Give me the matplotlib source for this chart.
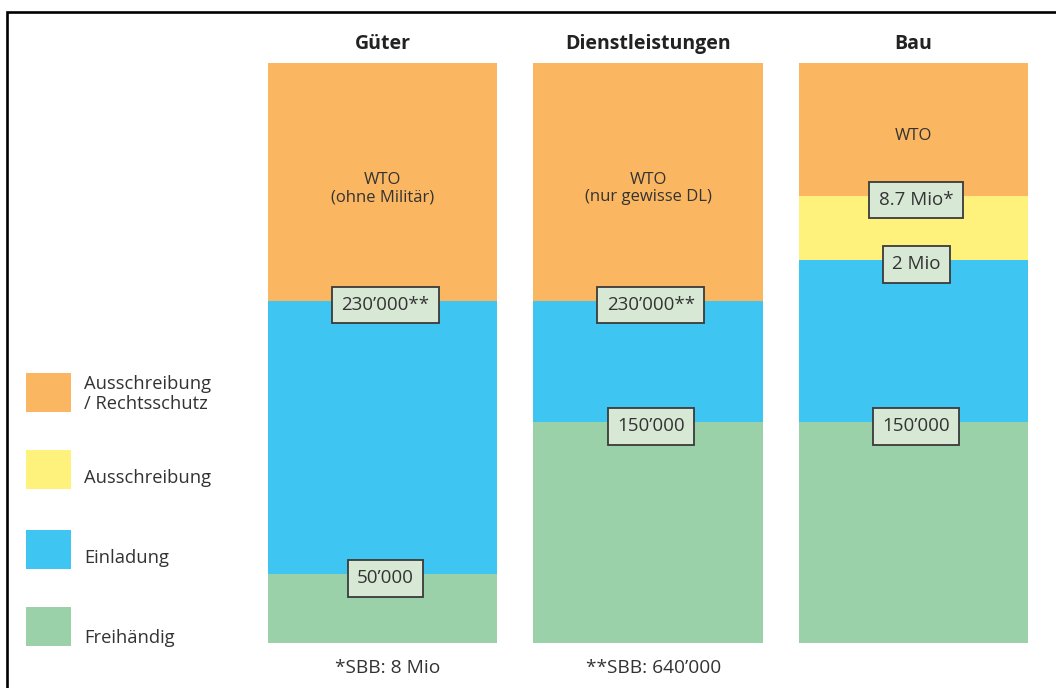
import matplotlib

matplotlib.use("Agg")
import matplotlib.pyplot as plt
from matplotlib.patches import Rectangle
import numpy as np

plt.rcParams["font.family"] = ["Open Sans", "DejaVu Sans"]

# Verfahrensarten pro Auftragsart, Anteile der Säulenhöhe (unten nach oben)
categories = ["Güter", "Dienstleistungen", "Bau"]
freihaendig = [11.9, 38.1, 38.1]
einladung = [47.1, 20.9, 27.9]
ausschreibung = [0.0, 0.0, 11.1]
rechtsschutz = [41.0, 41.0, 22.9]

layer_names = ["Freihändig", "Einladung", "Ausschreibung", "Ausschreibung\n/ Rechtsschutz"]
layer_colors = ["#9bd1a8", "#3fc5f1", "#fff27c", "#fbb661"]

# Schwellenwerte: (Obergrenze der Schicht, Text)
thresholds = [
    [(0, "50’000"), (1, "230’000**")],
    [(0, "150’000"), (1, "230’000**")],
    [(0, "150’000"), (1, "2 Mio"), (2, "8.7 Mio*")],
]
wto_labels = ["WTO\n(ohne Militär)", "WTO\n(nur gewisse DL)", "WTO"]
footnotes = ["*SBB: 8 Mio", "**SBB: 640’000", ""]

TEXT = "#333333"

fig = plt.figure(figsize=(10.56, 6.88), dpi=100)

# Rahmen und Legende in Pixelkoordinaten
frame = fig.add_axes([0, 0, 1, 1])
frame.set_xlim(0, 1056)
frame.set_ylim(688, 0)
frame.axis("off")
frame.plot([7, 7, 1060], [700, 12, 12], color="black", lw=1.9, solid_joinstyle="miter")

legend_tops = [607, 530, 450, 373]
legend_text_y = [638, 558, 478, 394]
for name, color, top, ty in zip(layer_names, layer_colors, legend_tops, legend_text_y):
    frame.add_patch(Rectangle((26, top), 45, 39, facecolor=color, edgecolor="none"))
    frame.text(84, ty, name, ha="left", va="center", fontsize=13.2, color=TEXT, linespacing=1.18)

ax = fig.add_axes([268 / 1056, 45 / 688, 760 / 1056, 580 / 688])
x = np.arange(len(categories))
width = 0.864
layers = [freihaendig, einladung, ausschreibung, rechtsschutz]
bottom = np.zeros(len(categories))
tops = []
for values, color in zip(layers, layer_colors):
    values = np.array(values)
    ax.bar(x, values, width, bottom=bottom, color=color, edgecolor="none")
    bottom = bottom + values
    tops.append(bottom.copy())

ax.set_xlim(-width / 2, len(categories) - 1 + width / 2)
ax.set_ylim(0, 100)
ax.axis("off")

for i, cat in enumerate(categories):
    ax.text(i, 103.3, cat, ha="center", va="center", fontsize=14, fontweight="bold",
            color="#222222", clip_on=False)
    mid = (tops[2][i] + tops[3][i]) / 2
    ax.annotate(wto_labels[i], (i, mid), xytext=(0, -5), textcoords="offset points",
                ha="center", va="center", fontsize=12, color=TEXT, linespacing=1.1)
    for layer, label in thresholds[i]:
        ax.annotate(label, (i, tops[layer][i]), xytext=(2, -3), textcoords="offset points",
                    ha="center", va="center", fontsize=13.5, color=TEXT,
                    bbox=dict(boxstyle="square,pad=0.5", facecolor="#d7e8d5",
                              edgecolor="#3a3a3a", linewidth=1.3))
    if footnotes[i]:
        ax.text(i + 0.02, -4.3, footnotes[i], ha="center", va="center", fontsize=13.8,
                color=TEXT, clip_on=False)

fig.savefig("out.png", dpi=100)
